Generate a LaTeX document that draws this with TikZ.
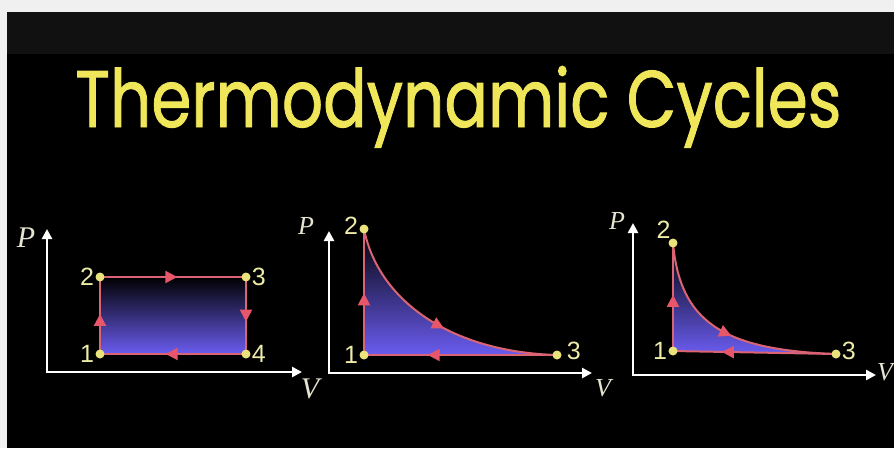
\documentclass[tikz,border=0pt]{standalone}
\usepackage{graphicx}
\usepackage{fontspec}
\setmainfont{Liberation Serif}
\newfontfamily\titlefont[FakeBold=1.2]{Poppins}
\newfontfamily\numfont{Liberation Sans}
\usetikzlibrary{arrows.meta,decorations.markings}

\definecolor{paper}{HTML}{F0F0F0}
\definecolor{band}{HTML}{111111}
\definecolor{gold}{HTML}{F0E65A}
\definecolor{dotyel}{HTML}{EAE27A}
\definecolor{numcol}{HTML}{ECEBA8}
\definecolor{cream}{HTML}{E6E4D0}
\definecolor{cycred}{HTML}{DB6474}
\definecolor{tipred}{HTML}{E8566A}
\definecolor{violet}{HTML}{6A5CF0}

\tikzset{
  axis/.style={white, line width=2.6pt,
    {Triangle[length=10pt,width=10pt]}-{Triangle[length=10pt,width=10pt]}},
  cyc/.style={cycred, line width=2pt},
  tri/.style={postaction={decorate, decoration={markings,
    mark=at position #1 with {\arrow[tipred]{Triangle[length=12pt,width=12pt]}}}}},
  dot/.style={circle, fill=dotyel, inner sep=0pt, minimum size=9pt},
  num/.style={font=\numfont\fontsize{25}{25}\selectfont, text=numcol, inner sep=1pt},
  axlbl/.style={font=\fontsize{30}{30}\selectfont\itshape, text=cream, inner sep=0pt},
  gas/.style={top color=black, bottom color=violet}
}

\begin{document}
\begin{tikzpicture}[x=1pt, y=-1pt]
  \useasboundingbox (0,0) rectangle (894,448);
  \fill[paper] (0,0) rectangle (894,448);
  \fill[black] (7,12) rectangle (894,448);
  \fill[band] (7,12) rectangle (894,54);

  \node (title) [anchor=base west, inner sep=0pt, text=gold] at (75,127)
    {\resizebox{766pt}{61pt}{\titlefont Thermodynamic Cycles}};

  % rectangle cycle
  \coordinate (a1) at (100,354);
  \coordinate (a2) at (100,277);
  \coordinate (a3) at (246,277);
  \coordinate (a4) at (246,354);
  \coordinate (ap) at (47,229);
  \coordinate (av) at (302,372);
  \draw[axis] (ap) |- (av);
  \node (pa) [axlbl] at (26,238) {P};
  \node (va) [axlbl] at (310,389) {V};
  \shade[gas] (a2) rectangle (a4);
  \draw[cyc, tri=0.52] (a1) -- (a2);
  \draw[cyc, tri=0.53] (a2) -- (a3);
  \draw[cyc, tri=0.58] (a3) -- (a4);
  \draw[cyc, tri=0.55] (a4) -- (a1);
  \node (d1) [dot, label={[num]left:1}] at (a1) {};
  \node (d2) [dot, label={[num]left:2}] at (a2) {};
  \node (d3) [dot, label={[num]right:3}] at (a3) {};
  \node (d4) [dot, label={[num]right:4}] at (a4) {};

  % second cycle
  \coordinate (b1) at (364,355);
  \coordinate (b2) at (364,229);
  \coordinate (b3) at (557,355);
  \coordinate (bp) at (329,231);
  \coordinate (bv) at (592,373);
  \draw[axis] (bp) |- (bv);
  \node (pb) [axlbl, font=\fontsize{26}{26}\selectfont\itshape] at (306,226) {P};
  \node (vb) [axlbl, font=\fontsize{26}{26}\selectfont\itshape] at (603,388) {V};
  \shade[gas] (b2) .. controls (378,300) and (450,352) .. (b3) -- (b1) -- cycle;
  \draw[cyc, tri=0.49] (b1) -- (b2);
  \draw[cyc, tri=0.53] (b2) .. controls (378,300) and (450,352) .. (b3);
  \draw[cyc, tri=0.67] (b3) -- (b1);
  \node (e1) [dot, label={[num]left:1}] at (b1) {};
  \node (e2) [dot, label={[num, yshift=3pt]left:2}] at (b2) {};
  \node (e3) [dot, label={[num, yshift=4pt, xshift=4pt]right:3}] at (b3) {};

  % third cycle
  \coordinate (c1) at (673,351);
  \coordinate (c2) at (673,243);
  \coordinate (c3) at (836,354);
  \coordinate (cp) at (633,223);
  \coordinate (cv) at (876,375);
  \draw[axis] (cp) |- (cv);
  \node (pc) [axlbl, font=\fontsize{26}{26}\selectfont\itshape] at (617,221) {P};
  \node (vc) [axlbl, font=\fontsize{26}{26}\selectfont\itshape] at (885,372) {V};
  \shade[gas] (c2) .. controls (680,320) and (720,350) .. (c3) -- (c1) -- cycle;
  \draw[cyc, tri=0.52] (c1) -- (c2);
  \draw[cyc, tri=0.52] (c2) .. controls (680,320) and (720,350) .. (c3);
  \draw[cyc, tri=0.7] (c3) -- (c1);
  \node (f1) [dot, label={[num]left:1}] at (c1) {};
  \node (f2) [dot, label={[num, xshift=2pt]above left:2}] at (c2) {};
  \node (f3) [dot, label={[num, yshift=3pt]right:3}] at (c3) {};
\end{tikzpicture}
\end{document}
